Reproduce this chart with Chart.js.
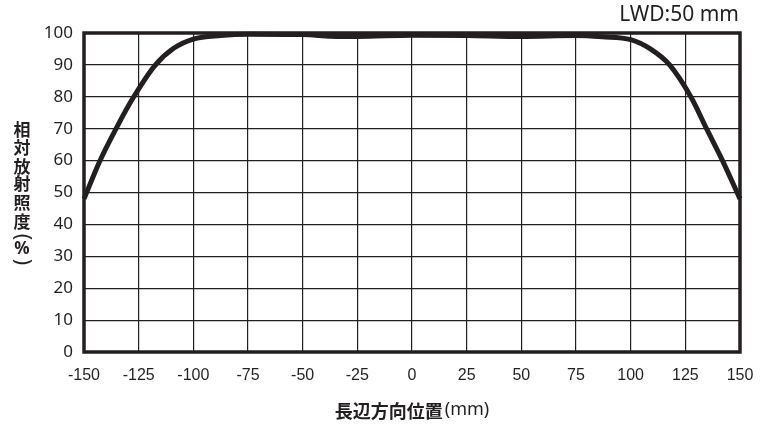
<!DOCTYPE html>
<html>
<head>
<meta charset="utf-8">
<script src="https://cdn.jsdelivr.net/npm/chart.js@4.4.1/dist/chart.umd.min.js"></script>
<style>
  html, body { margin: 0; padding: 0; background: #fff; }
  #wrap { width: 769px; height: 433px; }
</style>
</head>
<body>
<div id="wrap"><canvas id="myChart"></canvas></div>
<script>
  'use strict'

  // positions along the long side (mm) and relative irradiance (%)
  const positions = [-150, -142.8, -135.2, -127.6, -117.6, -109, -100, -87.5, -75, -50, -37, -25, 0, 25, 50, 75, 87, 100, 109, 117.8, 127.5, 134.7, 142, 150]
  const irradiance = [48, 59.8, 70.2, 79.6, 89.8, 95.2, 98.1, 99.2, 99.6, 99.5, 99.0, 98.9, 99.3, 99.2, 98.9, 99.2, 98.8, 97.9, 95.0, 90, 80, 70, 60, 48]

  const xTicks = [-150, -125, -100, -75, -50, -25, 0, 25, 50, 75, 100, 125, 150]
  const yTicks = [0, 10, 20, 30, 40, 50, 60, 70, 80, 90, 100]

  const INK = '#231f20'
  const xTitleMain = '長辺方向位置'
  const xTitleUnit = '(mm)'
  const yTitleChars = ['相', '対', '放', '射', '照', '度', '(', '%', ')']
  const yTitleOffsets = [0, 18, 36.5, 54, 73, 91.5, 107, 119.5, 132]

  // frame, axis titles and the LWD note
  const decorations = {
    id: 'decorations',
    beforeDatasetsDraw(chart) {
      const { ctx, chartArea: a } = chart
      ctx.save()
      ctx.strokeStyle = INK
      ctx.lineWidth = 3.5
      ctx.strokeRect(a.left, a.top, a.right - a.left, a.bottom - a.top)
      ctx.restore()
    },
    afterDraw(chart) {
      const { ctx, chartArea: a } = chart
      ctx.save()
      ctx.fillStyle = INK
      ctx.textAlign = 'center'
      ctx.textBaseline = 'middle'
      yTitleChars.forEach((c, i) => {
        const y = 130 + yTitleOffsets[i]
        if (c === '(' || c === ')') {
          // parentheses turned for vertical writing
          ctx.save()
          ctx.translate(22, y)
          ctx.rotate(Math.PI / 2)
          ctx.font = '21px "Noto Sans"'
          ctx.fillText(c, 0, 0)
          ctx.restore()
        } else if (c === '%') {
          ctx.font = 'bold 17px "Noto Sans"'
          ctx.fillText(c, 22, y)
        } else {
          ctx.font = 'bold 17px "Noto Sans CJK JP"'
          ctx.fillText(c, 22, y)
        }
      })

      // x title: bold words, plain unit
      const mainFont = 'bold 18px "Noto Sans CJK JP"'
      const unitFont = '18px "Noto Sans"'
      ctx.font = mainFont
      const w1 = ctx.measureText(xTitleMain).width
      ctx.font = unitFont
      const w2 = ctx.measureText(xTitleUnit).width
      const x0 = (a.left + a.right) / 2 - (w1 + w2 + 2) / 2
      ctx.textAlign = 'left'
      ctx.font = mainFont
      ctx.fillText(xTitleMain, x0, 411)
      ctx.font = unitFont
      ctx.fillText(xTitleUnit, x0 + w1 + 2, 410)

      ctx.textAlign = 'right'
      ctx.font = '21px "Noto Sans"'
      ctx.fillText('LWD:50 mm', a.right - 1, 15)
      ctx.restore()
    }
  }

  const ctx = document.getElementById('myChart')
  // eslint-disable-next-line no-unused-vars
  const myChart = new Chart(ctx, {
    type: 'line',
    data: {
      datasets: [{
        label: 'LWD:50 mm',
        data: positions.map((x, i) => ({ x: x, y: irradiance[i] })),
        borderColor: INK,
        borderWidth: 5,
        borderJoinStyle: 'round',
        pointRadius: 0,
        cubicInterpolationMode: 'monotone',
        fill: false,
        clip: false
      }]
    },
    options: {
      responsive: true,
      maintainAspectRatio: false,
      animation: false,
      layout: {
        padding: { top: 33, right: 29, left: 0, bottom: 0 }
      },
      plugins: {
        legend: { display: false },
        tooltip: { enabled: false }
      },
      scales: {
        x: {
          type: 'linear',
          min: -150,
          max: 150,
          afterBuildTicks(scale) {
            scale.ticks = xTicks.map(v => ({ value: v }))
          },
          afterFit(scale) {
            scale.height = 81
          },
          grid: {
            color: INK,
            lineWidth: 1.2,
            drawTicks: false
          },
          border: { display: false },
          ticks: {
            color: INK,
            padding: 14,
            maxRotation: 0,
            font: { family: '"Liberation Sans Narrow", "Liberation Sans", sans-serif', size: 16 }
          }
        },
        y: {
          min: 0,
          max: 100,
          afterBuildTicks(scale) {
            scale.ticks = yTicks.map(v => ({ value: v }))
          },
          afterFit(scale) {
            scale.width = 84
          },
          grid: {
            color: INK,
            lineWidth: 1.2,
            drawTicks: false
          },
          border: { display: false },
          ticks: {
            color: INK,
            padding: 11,
            font: { family: '"Noto Sans"', size: 17 }
          }
        }
      }
    },
    plugins: [decorations]
  })
</script>
</body>
</html>
